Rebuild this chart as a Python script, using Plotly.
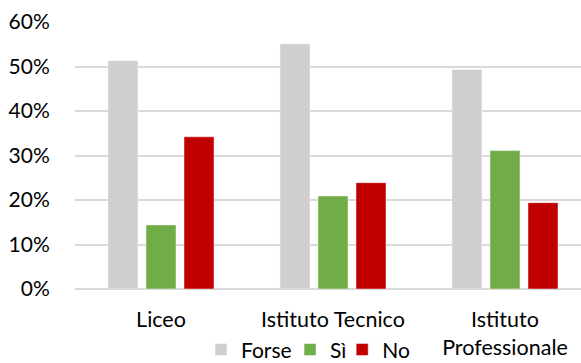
import plotly.graph_objects as go

# School types and share of answers per type
categories = ["Liceo", "Istituto Tecnico", "Istituto<br>Professionale"]
forse = [0.513, 0.551, 0.493]
si = [0.144, 0.209, 0.311]
no = [0.342, 0.239, 0.194]

series = [("Forse", forse, "#D0CECE"), ("Sì", si, "#70AD47"), ("No", no, "#C00000")]

FONT = "Lato"
legend_keys = ["legend", "legend2", "legend3"]
legend_x = [0.249, 0.425, 0.528]

fig = go.Figure()
for (name, vals, color), key in zip(series, legend_keys):
    fig.add_trace(go.Bar(
        x=categories, y=vals, name=name, legend=key,
        marker=dict(color=color, line=dict(color="rgba(255,255,255,0.6)", width=0.8)),
    ))

legend_style = dict(orientation="h", xanchor="left", y=-0.228, yanchor="middle",
                    font=dict(family=FONT, size=21, color="#000000"),
                    bgcolor="rgba(0,0,0,0)", itemclick=False, borderwidth=0)

fig.update_layout(
    width=581, height=363,
    margin=dict(l=75, r=0, t=22, b=74, autoexpand=False),
    paper_bgcolor="white", plot_bgcolor="white",
    barmode="group", bargap=0.337, bargroupgap=0.21,
    font=dict(family=FONT, size=21, color="#000000"),
    showlegend=True,
    legend=dict(x=legend_x[0], **legend_style),
    legend2=dict(x=legend_x[1], **legend_style),
    legend3=dict(x=legend_x[2], **legend_style),
)
fig.update_xaxes(
    range=[-0.5, 2.442], showgrid=False, showline=False,
    ticks="outside", ticklen=11, tickcolor="rgba(0,0,0,0)",
    tickfont=dict(family=FONT, size=21.5, color="#000000"),
)
fig.update_yaxes(
    range=[0, 0.6], tickvals=[0, 0.1, 0.2, 0.3, 0.4, 0.5, 0.6], tickformat=".0%",
    showgrid=True, gridcolor="#D9D9D9", gridwidth=1.5,
    zeroline=True, zerolinecolor="#D9D9D9", zerolinewidth=1.5,
    showline=False, ticks="outside", ticklen=20, tickcolor="rgba(0,0,0,0)",
    tickfont=dict(family=FONT, size=21, color="#000000"),
)

fig.write_html("out.html")
